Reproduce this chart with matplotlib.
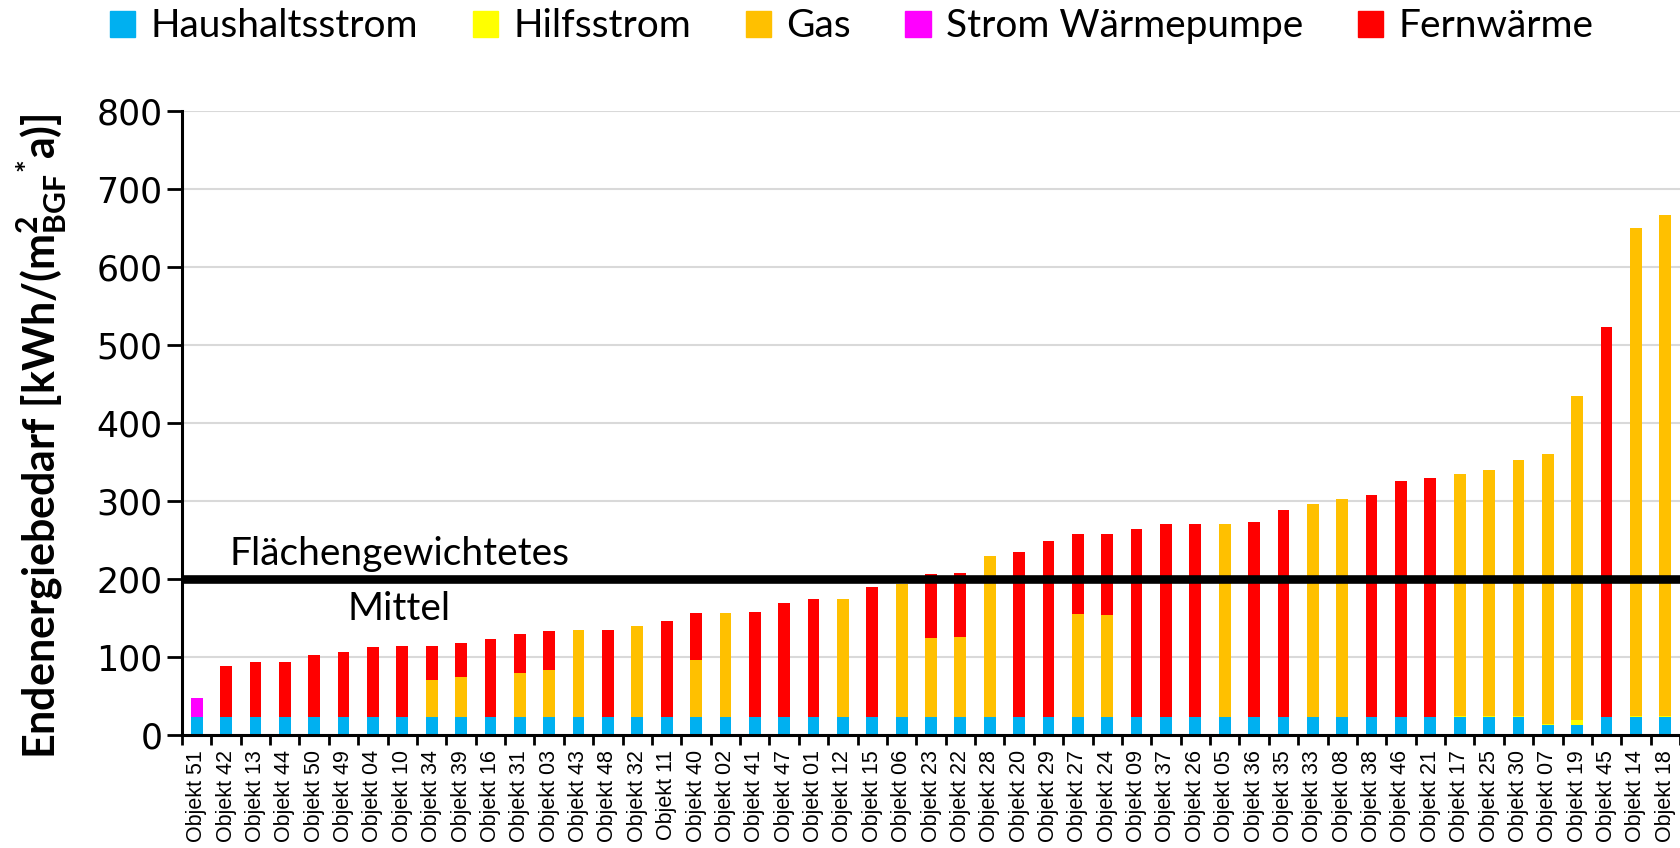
import numpy as np
import matplotlib
matplotlib.use('Agg')
import matplotlib.pyplot as plt
from matplotlib.patches import Patch

# Objekte in der Reihenfolge der Grafik
objekte = ['51', '42', '13', '44', '50', '49', '04', '10', '34', '39', '16', '31', '03',
           '43', '48', '32', '11', '40', '02', '41', '47', '01', '12', '15', '06', '23',
           '22', '28', '20', '29', '27', '24', '09', '37', '26', '05', '36', '35', '33',
           '08', '38', '46', '21', '17', '25', '30', '07', '19', '45', '14', '18']

# Segmenthöhen in kWh/(m²*a)
haushaltsstrom = [23] * 46 + [13, 13] + [23, 23, 23]
hilfsstrom = [0] * 43 + [1, 1, 1, 1, 6, 0, 1, 1]
gas = [0, 0, 0, 0, 0, 0, 0, 0, 48, 52, 0, 57, 60,
       111, 0, 117, 0, 73, 134, 0, 0, 0, 152, 0, 171, 102,
       103, 207, 0, 0, 132, 131, 0, 0, 0, 248, 0, 0, 273,
       279, 0, 0, 0, 310, 316, 329, 346, 415, 0, 626, 643]
strom_wp = [25] + [0] * 50
fernwaerme = [0, 65, 70, 70, 80, 83, 90, 91, 43, 43, 100, 49, 50,
              0, 111, 0, 123, 61, 0, 135, 146, 152, 0, 167, 0, 81,
              82, 0, 212, 226, 103, 104, 241, 247, 247, 0, 250, 265, 0,
              0, 285, 303, 306, 0, 0, 0, 0, 0, 500, 0, 0]
mittel = 200

serien = [
    ('Haushaltsstrom', haushaltsstrom, '#00B0F0'),
    ('Hilfsstrom', hilfsstrom, '#FFFF00'),
    ('Gas', gas, '#FFC000'),
    ('Strom Wärmepumpe', strom_wp, '#FF00FF'),
    ('Fernwärme', fernwaerme, '#FF0000'),
]

plt.rcParams['mathtext.fontset'] = 'custom'
plt.rcParams['mathtext.rm'] = 'Lato:bold'
plt.rcParams['mathtext.it'] = 'Lato:bold'
plt.rcParams['mathtext.bf'] = 'Lato:bold'

fig = plt.figure(figsize=(16.8, 8.48), dpi=100)
ax = fig.add_axes([182 / 1680, 113 / 848, 1 - 182 / 1680, 624 / 848])

x = np.arange(len(objekte))
unten = np.zeros(len(objekte))
for name, werte, farbe in serien:
    werte = np.array(werte, dtype=float)
    ax.bar(x, werte, 0.4, bottom=unten, color=farbe, zorder=3, linewidth=0)
    unten += werte

ax.axhline(mittel, color='black', lw=6.2, zorder=5)
ax.text(6.9, 232, 'Flächengewichtetes', fontsize=28, family='Lato',
        ha='center', va='center', zorder=6)
ax.text(6.9, 161, 'Mittel', fontsize=28, family='Lato',
        ha='center', va='center', zorder=6)

ax.set_xlim(-0.5, 50.4)
ax.set_ylim(0, 800)
ax.set_yticks(np.arange(0, 801, 100))
ax.yaxis.grid(True, color='#D9D9D9', lw=1.5, zorder=0)
ax.set_axisbelow(True)

ax.set_xticks(x)
ax.set_xticklabels(['Objekt ' + o for o in objekte], rotation=90,
                   fontsize=15.5, family='Liberation Sans')
ax.set_xticks(np.arange(-0.5, len(objekte), 1), minor=True)
ax.tick_params(axis='x', which='major', length=0, pad=11)
ax.tick_params(axis='x', which='minor', length=7, width=2, direction='out')
ax.tick_params(axis='y', length=11, width=2, pad=3, labelsize=25)

for s in ['top', 'right']:
    ax.spines[s].set_visible(False)
ax.spines['left'].set_linewidth(2.2)
ax.spines['bottom'].set_linewidth(2.2)
ax.spines['bottom'].set_zorder(6)

fig.text(0.025, 1 - 436 / 848,
         r'Endenergiebedarf [kWh/(m$^{2}_{BGF}{}^{*}$a)]',
         rotation=90, ha='center', va='center', fontsize=31,
         family='Lato', fontweight='bold')

handles = [Patch(color=f, label=n) for n, w, f in serien]
fig.legend(handles=handles, loc='center', bbox_to_anchor=(0.507, 0.969), ncol=5,
           frameon=False, prop={'family': 'Lato', 'size': 28},
           handlelength=0.65, handleheight=0.65, handletextpad=0.4,
           columnspacing=1.4)

fig.savefig('out.png', dpi=100)
